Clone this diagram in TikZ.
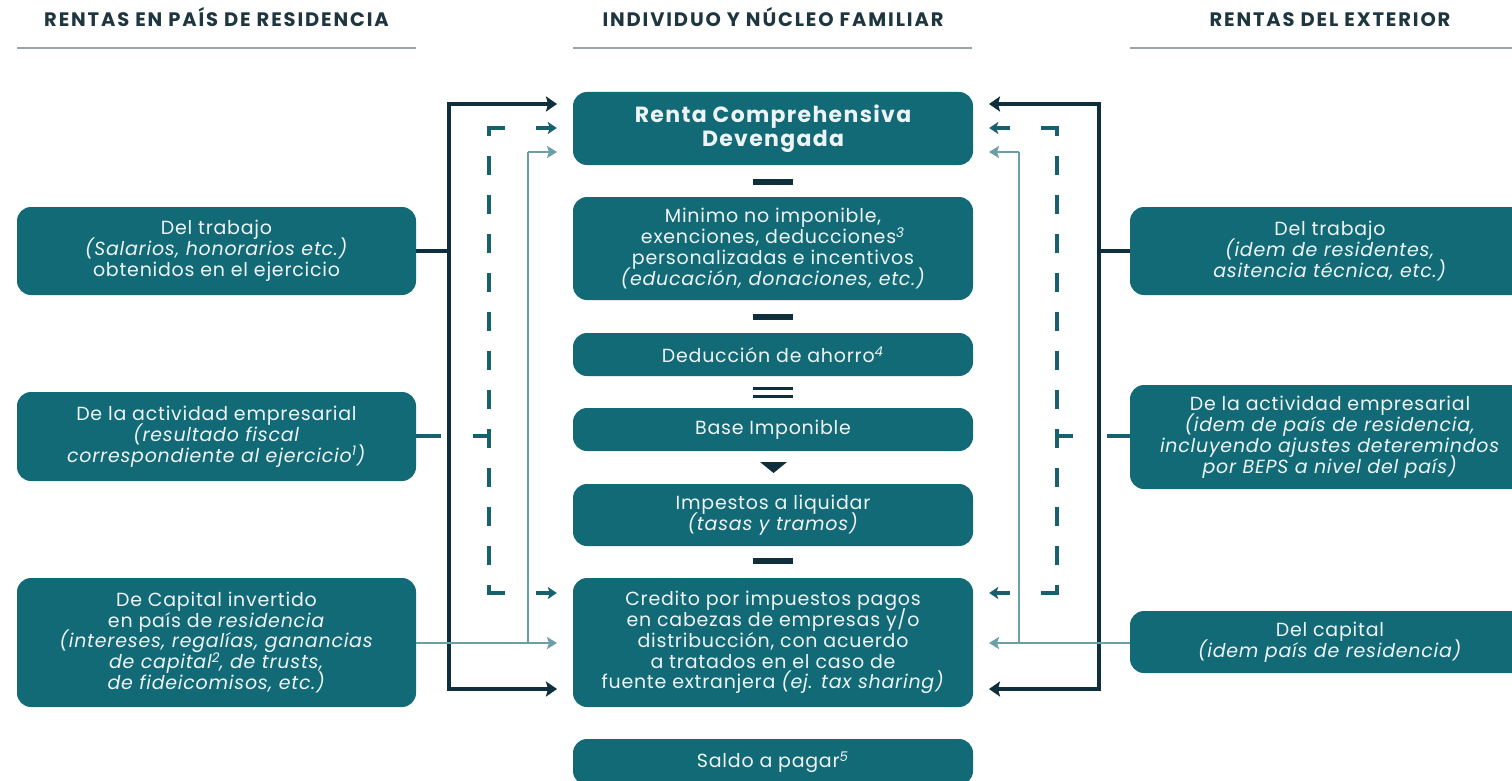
\documentclass[tikz,border=0pt]{standalone}
\usepackage{fontspec}
\setmainfont{Poppins}
\newfontfamily\boxfont{Poppins}[LetterSpace=4]
\newfontfamily\titlefont{Poppins}[LetterSpace=6]
\newfontfamily\headfont{Poppins}[LetterSpace=9.5]
\newcommand\tightlines{\lineskiplimit=-30pt\relax}
\usetikzlibrary{arrows.meta}
\definecolor{boxteal}{HTML}{136A77}
\definecolor{darkline}{HTML}{0E2F3B}
\definecolor{midline}{HTML}{17606E}
\definecolor{thinline}{HTML}{6C9EAA}
\definecolor{headtxt}{HTML}{1E3640}
\definecolor{rulegray}{HTML}{9AA5AA}
\definecolor{boxtxt}{HTML}{EEF4F5}
\tikzset{
  box/.style={rounded corners=14pt, fill=boxteal, text=boxtxt, align=center, inner sep=0pt,
    font=\boxfont\fontsize{19}{20.9}\selectfont\tightlines},
  titlebox/.style={box, font=\titlefont\bfseries\fontsize{22}{24}\selectfont\tightlines},
  head/.style={text=headtxt, anchor=base, inner sep=0pt, font=\headfont\bfseries\fontsize{19.5}{22}\selectfont},
  hrule/.style={draw=rulegray, line width=2pt},
  opbar/.style={fill=darkline},
  darkarrow/.style={draw=darkline, line width=4.5pt, -{Stealth[length=11pt,width=15pt,inset=2pt]}},
  darkconn/.style={draw=darkline, line width=4.5pt},
  dasharrow/.style={draw=midline, line width=3.5pt, -{Stealth[length=9pt,width=12pt,inset=2pt]}},
  dashline/.style={draw=midline, line width=3.5pt, dash pattern=on 19pt off 20pt, dash phase=11pt},
  dashsolid/.style={draw=midline, line width=3.5pt},
  thinarrow/.style={draw=thinline, line width=2pt, -{Stealth[length=10pt,width=12pt,inset=2pt]}},
  thinconn/.style={draw=thinline, line width=2pt},
}
\begin{document}
\begin{tikzpicture}[x=1pt,y=-1pt]
\useasboundingbox (0,0) rectangle (1512,781);
\begin{scope}
\clip (0,0) rectangle (1512,781);
% headers
\node[head] (hL) at (216.5,27) {RENTAS EN PAÍS DE RESIDENCIA};
\node[head] (hC) at (773,27) {INDIVIDUO Y NÚCLEO FAMILIAR};
\node[head] (hR) at (1330,27) {RENTAS DEL EXTERIOR};
\draw[hrule] (17,48) -- (416,48);
\draw[hrule] (573,48) -- (972,48);
\draw[hrule] (1130,48) -- (1512,48);

% left boxes
\node[box, minimum width=399pt, minimum height=88pt] (L1) at (216.5,251)
  {Del trabajo\\\textit{(Salarios, honorarios etc.)}\\obtenidos en el ejercicio};
\node[box, minimum width=399pt, minimum height=89pt] (L2) at (216.5,436.5)
  {De la actividad empresarial\\\textit{(resultado fiscal}\\\textit{correspondiente al ejercicio\textsuperscript{1})}};
\node[box, minimum width=399pt, minimum height=129pt] (L3) at (216.5,642.5)
  {De Capital invertido\\en país de \textit{residencia}\\\textit{(intereses, regalías, ganancias}\\\textit{de capital\textsuperscript{2}, de trusts,}\\\textit{de fideicomisos, etc.)}};

% center boxes
\node[titlebox, minimum width=400pt, minimum height=73pt] (C1) at (773,128.5)
  {Renta Comprehensiva\\Devengada};
\node[box, minimum width=400pt, minimum height=103pt] (C2) at (773,248.5)
  {Minimo no imponible,\\exenciones, deducciones\textsuperscript{\textit{3}}\\personalizadas e incentivos\\\textit{(educación, donaciones, etc.)}};
\node[box, minimum width=400pt, minimum height=43pt] (C3) at (773,354.5)
  {Deducción de ahorro\textsuperscript{\textit{4}}};
\node[box, minimum width=400pt, minimum height=43pt] (C4) at (773,429.5)
  {Base Imponible};
\node[box, minimum width=400pt, minimum height=62pt] (C5) at (773,515)
  {Impestos a liquidar\\\textit{(tasas y tramos)}};
\node[box, minimum width=400pt, minimum height=129pt] (C6) at (773,642.5)
  {Credito por impuestos pagos\\en cabezas de empresas y/o\\distribucción, con acuerdo\\a tratados en el caso de\\fuente extranjera \textit{(ej. tax sharing)}};
\node[box, minimum width=400pt, minimum height=46pt] (C7) at (773,762)
  {Saldo a pagar\textsuperscript{\textit{5}}};

% right boxes
\node[box, minimum width=400pt, minimum height=88pt] (R1) at (1330,251)
  {Del trabajo\\\textit{(idem de residentes,}\\\textit{asitencia técnica, etc.)}};
\node[box, minimum width=400pt, minimum height=104pt] (R2) at (1330,437)
  {De la actividad empresarial\\\textit{(idem de país de residencia,}\\\textit{incluyendo ajustes deteremindos}\\\textit{por BEPS a nivel del país)}};
\node[box, minimum width=400pt, minimum height=62pt] (R3) at (1330,642)
  {Del capital\\\textit{(idem país de residencia)}};

% operators
\fill[opbar] (753,179) rectangle (793,185);
\fill[opbar] (753,314) rectangle (793,320);
\fill[opbar] (753,387) rectangle (793,390);
\fill[opbar] (753,395) rectangle (793,398);
\fill[opbar] (760,462) -- (787,462) -- (773.5,473) -- cycle;
\fill[opbar] (753,558) rectangle (793,564);

% ---------- left connectors ----------
\coordinate (ldJ) at (449,251);
\coordinate (ldT) at (449,104);
\coordinate (ldB) at (449,689);
\coordinate (aC1dL) at (557,104);
\coordinate (aC6dL) at (557,689);
\coordinate (ltB) at (528,643);
\coordinate (ltT) at (528,152);
\coordinate (aC1tL) at (557,152);
\coordinate (aC6tL) at (557,643);
\draw[darkconn] (L1.east) -- (ldJ);
\draw[darkarrow] (ldB) -- (ldT) -- (aC1dL);
\draw[darkarrow] (ldB) ++(-2.25,0) -- (aC6dL);
\draw[thinarrow] (L3.east |- ltB) -- (aC6tL);
\draw[thinconn] (ltB) -- (ltT);
\draw[thinarrow] (ltT) -- (aC1tL);
\coordinate (lmT) at (489,128);
\coordinate (lmB) at (489,593);
\coordinate (lmJ) at (489,436);
\draw[dashline] (lmT) -- (lmB);
\draw[dashsolid] ([xshift=-1.75pt]lmT) -- ++(17.75,0);
\draw[dashsolid] ([xshift=-1.75pt]lmB) -- ++(17.75,0);
\draw[dashsolid] (473,436) -- (lmJ);
\draw[dashsolid] (L2.east |- lmJ) -- (441,436);
\draw[dasharrow] (536,128) -- ([xshift=-16pt]C1.west |- lmT);
\draw[dasharrow] (536,593) -- ([xshift=-16pt]C6.west |- lmB);

% ---------- right connectors ----------
\coordinate (rdJ) at (1099,251);
\coordinate (rdT) at (1099,104);
\coordinate (rdB) at (1099,689);
\coordinate (aC1dR) at (989,104);
\coordinate (aC6dR) at (989,689);
\coordinate (rtB) at (1019,643);
\coordinate (rtT) at (1019,152);
\coordinate (aC1tR) at (989,152);
\coordinate (aC6tR) at (989,643);
\draw[darkconn] (R1.west) -- (rdJ);
\draw[darkarrow] (rdB) -- (rdT) -- (aC1dR);
\draw[darkarrow] (rdB) ++(2.25,0) -- (aC6dR);
\draw[thinarrow] (R3.west |- rtB) -- (aC6tR);
\draw[thinconn] (rtB) -- (rtT);
\draw[thinarrow] (rtT) -- (aC1tR);
\coordinate (rmT) at (1057,128);
\coordinate (rmB) at (1057,593);
\coordinate (rmJ) at (1057,436);
\draw[dashline] (rmT) -- (rmB);
\draw[dashsolid] ([xshift=1.75pt]rmT) -- ++(-17.75,0);
\draw[dashsolid] ([xshift=1.75pt]rmB) -- ++(-17.75,0);
\draw[dashsolid] (1073,436) -- (rmJ);
\draw[dashsolid] (R2.west |- rmJ) -- (1107,436);
\draw[dasharrow] (1010,128) -- ([xshift=16pt]C1.east |- rmT);
\draw[dasharrow] (1010,593) -- ([xshift=16pt]C6.east |- rmB);
\end{scope}
\end{tikzpicture}
\end{document}
